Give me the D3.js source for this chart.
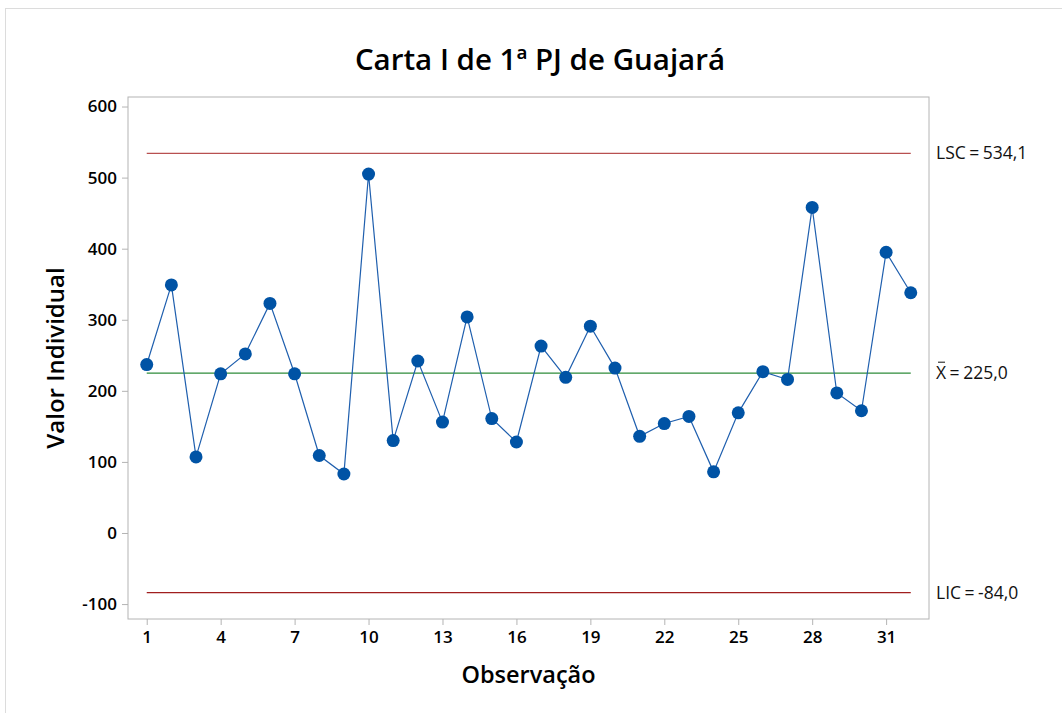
<!DOCTYPE html>
<html>
<head>
<meta charset="utf-8">
<script src="https://cdn.jsdelivr.net/npm/d3@7"></script>
<style>
	body { margin: 0; background: #fff; }
	svg { display: block; font-family: "Open Sans", "Noto Sans", sans-serif; }
	.axis path, .axis line { stroke: #b4b4b4; }
	.axis text { font-family: "Open Sans", "Noto Sans", sans-serif; font-size: 17px; font-weight: 600; fill: #000; }
</style>
</head>
<body>
<svg width="1062" height="713"></svg>
<script>
var observations = d3.range(1, 33);
var values = [237, 349, 107, 224, 252, 323, 224, 109, 83, 505,
	130, 242, 156, 304, 161, 128, 263, 219, 291, 232,
	136, 154, 164, 86, 169, 227, 216, 458, 197, 172,
	395, 338];
var xTicks = [1, 4, 7, 10, 13, 16, 19, 22, 25, 28, 31];
var yTicks = [-100, 0, 100, 200, 300, 400, 500, 600];
var limits = [
	{ key: "LSC", value: 534.1, label: "534,1", color: "#b85050" },
	{ key: "X", value: 225.0, label: "225,0", color: "#2e8b3a" },
	{ key: "LIC", value: -84.0, label: "-84,0", color: "#a01e1e" },
];

var svg = d3.select("svg"),
	margin = { top: 97, right: 133, bottom: 94, left: 128 },
	width = +svg.attr("width") - margin.left - margin.right,
	height = +svg.attr("height") - margin.top - margin.bottom;

// moldura externa
svg.append("rect")
	.attr("x", 5.5).attr("y", 8.5)
	.attr("width", 1062).attr("height", 713)
	.attr("fill", "none").attr("stroke", "#dcdcdc");

var g = svg.append("g").attr("transform", "translate(" + margin.left + "," + margin.top + ")");

var x = d3.scaleLinear().domain([0.24, 32.74]).range([0, width]);
var y = d3.scaleLinear().domain([-121, 613.4]).range([height, 0]);

g.append("rect")
	.attr("width", width).attr("height", height)
	.attr("fill", "none").attr("stroke", "#b4b4b4");

g.append("g")
	.attr("class", "axis")
	.attr("transform", "translate(0," + height + ")")
	.call(d3.axisBottom(x).tickValues(xTicks).tickSize(6).tickPadding(6).tickFormat(function (d) { return String(d); }))
	.call(function (a) { a.select(".domain").remove(); });

g.append("g")
	.attr("class", "axis")
	.call(d3.axisLeft(y).tickValues(yTicks).tickSize(6).tickPadding(5).tickFormat(function (d) { return String(d); }))
	.call(function (a) { a.select(".domain").remove(); });

// linhas de controle
limits.forEach(function (l) {
	g.append("line")
		.attr("x1", x(1)).attr("x2", x(32))
		.attr("y1", y(l.value)).attr("y2", y(l.value))
		.attr("stroke", l.color).attr("stroke-width", 1.3);

	var t = g.append("text")
		.attr("x", width + 7)
		.attr("y", y(l.value))
		.attr("dy", "0.35em")
		.attr("font-size", 17.5)
		.attr("fill", "#111");
	var k = t.append("tspan").text(l.key);
	t.append("tspan").text("=").attr("dx", 3.5);
	t.append("tspan").text(l.label).attr("dx", 3.5);

	if (l.key === "X") {
		var b = k.node().getBBox();
		g.append("line")
			.attr("x1", b.x + 2).attr("x2", b.x + b.width - 2)
			.attr("y1", b.y + 2).attr("y2", b.y + 2)
			.attr("stroke", "#111").attr("stroke-width", 1);
	}
});

var line = d3.line()
	.x(function (d, i) { return x(observations[i]); })
	.y(function (d) { return y(d); });

g.append("path")
	.datum(values)
	.attr("fill", "none")
	.attr("stroke", "#1f5fae")
	.attr("stroke-width", 1.2)
	.attr("d", line);

g.selectAll("circle")
	.data(values)
	.enter().append("circle")
	.attr("cx", function (d, i) { return x(observations[i]); })
	.attr("cy", function (d) { return y(d); })
	.attr("r", 6.5)
	.attr("fill", "#0053a5");

// títulos
svg.append("text")
	.attr("x", 540).attr("y", 70)
	.attr("text-anchor", "middle")
	.attr("font-size", 29.5).attr("font-weight", 600)
	.text("Carta I de 1ª PJ de Guajará");

svg.append("text")
	.attr("x", margin.left + width / 2).attr("y", 683)
	.attr("text-anchor", "middle")
	.attr("font-size", 23.5).attr("font-weight", 600)
	.text("Observação");

svg.append("text")
	.attr("transform", "translate(64," + (margin.top + height / 2) + ") rotate(-90)")
	.attr("text-anchor", "middle")
	.attr("font-size", 24).attr("font-weight", 600)
	.text("Valor Individual");
</script>
</body>
</html>
